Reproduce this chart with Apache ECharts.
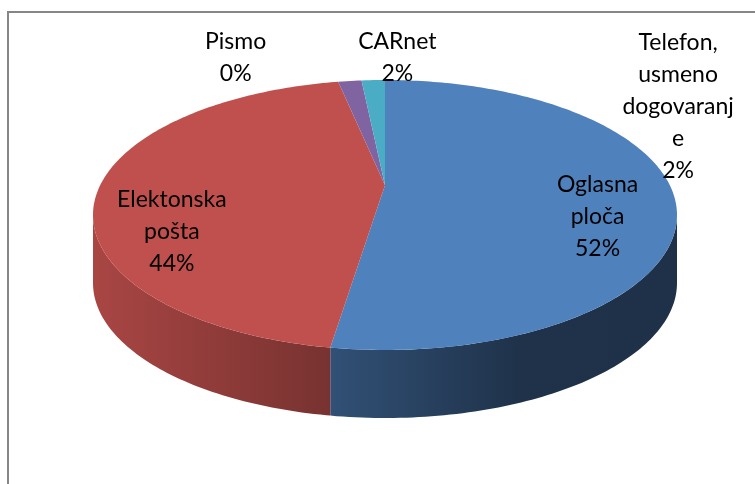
<!DOCTYPE html>
<html>
<head>
<meta charset="utf-8">
<script src="https://cdn.jsdelivr.net/npm/echarts@6/dist/echarts.min.js"></script>
<style>
html, body { margin: 0; padding: 0; background: #fff; }
#main { width: 755px; height: 484px; }
</style>
</head>
<body>
<div id="main"></div>
<script>
// podaci
var categories = ['Oglasna ploča', 'Elektonska pošta', 'Pismo', 'Telefon, usmeno dogovaranje', 'CARnet'];
var labelText = ['Oglasna\nploča', 'Elektonska\npošta', 'Pismo', 'Telefon,\nusmeno\ndogovaranj\ne', 'CARnet'];
var values = [52.4, 44.4, 0, 1.6, 1.6];
var colors = ['#4F81BD', '#C0504D', '#9BBB59', '#8064A2', '#4BACC6'];

// izgled 3D pite
var cx = 385, cy = 215, rx = 292, ry = 135, depth = 68;
var tau = -0.22;   // perspektiva (udaljeni dio je stisnut)
// oznake: unutra ili vani, pa pomak
var labelInside = [true, true, false, false, false];
var labelShift = [[0, -6], [0, 14], [-91, -25], [337, 25], [27, -23]];

var total = 0;
for (var i = 0; i < values.length; i++) total += values[i];
var startPct = [];
var acc = 0;
for (var i = 0; i < values.length; i++) { startPct.push(acc); acc += values[i]; }

// tocka kruga (kut t od vrha, u smjeru kazaljke) -> ekran, s perspektivom
function proj(t, r, dy) {
  var a = t * Math.PI / 180;
  var u = r * Math.sin(a), w = -r * Math.cos(a);
  var d = 1 + tau * w;
  var xs = u * Math.sqrt(1 - tau * tau) / d;
  var ys = (w + tau) / d;
  return [cx + rx * xs, cy + ry * ys + (dy || 0)];
}

// za smjestaj oznaka (ravna elipsa)
function flat(t, r) {
  var a = t * Math.PI / 180;
  return [cx + rx * r * Math.sin(a), cy - ry * r * Math.cos(a)];
}

function shade(hex, f) {
  var n = parseInt(hex.slice(1), 16);
  var r = Math.round(((n >> 16) & 255) * f);
  var g = Math.round(((n >> 8) & 255) * f);
  var b = Math.round((n & 255) * f);
  return 'rgb(' + r + ',' + g + ',' + b + ')';
}

var sideFrom = Math.acos(tau) * 180 / Math.PI;
var sideTo = 360 - sideFrom;

function renderItem(params, api) {
  var idx = params.dataIndex;
  var v = api.value(0);
  var a0 = startPct[idx] / total * 360;
  var a1 = (startPct[idx] + v) / total * 360;
  var children = [];
  var step = 1;

  // bocni zid (samo vidljivi prednji dio)
  var s = Math.max(a0, sideFrom), e = Math.min(a1, sideTo);
  if (e > s) {
    var pts = [];
    for (var t = s; t < e; t += step) pts.push(proj(t, 1));
    pts.push(proj(e, 1));
    for (var t = e; t > s; t -= step) pts.push(proj(t, 1, depth));
    pts.push(proj(s, 1, depth));
    var c = colors[idx];
    children.push({
      type: 'polygon',
      shape: { points: pts },
      style: {
        fill: {
          type: 'linear', global: true,
          x: cx - rx, y: 0, x2: cx + rx, y2: 0,
          colorStops: [
            { offset: 0, color: shade(c, 0.88) },
            { offset: 0.41, color: shade(c, 0.62) },
            { offset: 0.73, color: shade(c, 0.39) },
            { offset: 1, color: shade(c, 0.38) }
          ]
        }
      }
    });
  }

  // gornja ploha
  if (a1 > a0) {
    var top = [proj(0, 0)];
    for (var t = a0; t < a1; t += step) top.push(proj(t, 1));
    top.push(proj(a1, 1));
    children.push({
      type: 'polygon',
      shape: { points: top },
      style: { fill: colors[idx] }
    });
  }

  // oznaka
  var mid = (a0 + a1) / 2;
  var lp = labelInside[idx] ? flat(mid, 0.73) : flat(mid, 1);
  var pct = Math.round(v / total * 100) + '%';
  children.push({
    type: 'text',
    z2: 100,
    style: {
      text: labelText[idx] + '\n' + pct,
      x: lp[0] + labelShift[idx][0],
      y: lp[1] + labelShift[idx][1],
      fill: '#000',
      fontFamily: 'Lato',
      fontSize: 23,
      lineHeight: 32,
      align: 'center',
      verticalAlign: 'middle'
    }
  });

  return { type: 'group', children: children };
}

var chart = echarts.init(document.getElementById('main'));
var data = [];
for (var i = 0; i < values.length; i++) data.push({ name: categories[i], value: [values[i]] });

chart.setOption({
  animation: false,
  backgroundColor: '#fff',
  graphic: [{
    type: 'rect',
    shape: { x: 8, y: 12, width: 800, height: 500 },
    style: { fill: 'none', stroke: '#868686', lineWidth: 2 },
    silent: true
  }],
  series: [{
    type: 'custom',
    coordinateSystem: 'none',
    renderItem: renderItem,
    data: data
  }]
});
</script>
</body>
</html>
